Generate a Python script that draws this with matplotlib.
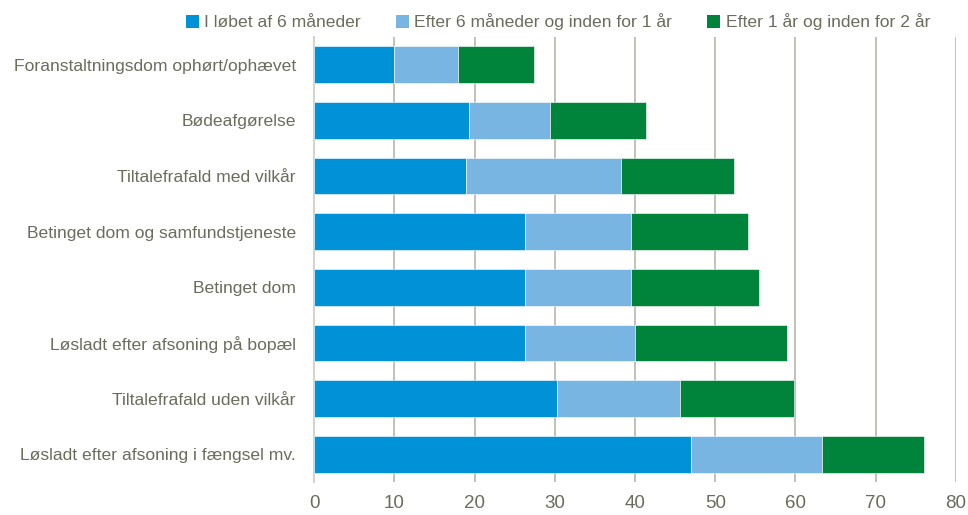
import numpy as np
import matplotlib
matplotlib.use('Agg')
import matplotlib.pyplot as plt
from matplotlib.patches import Patch

plt.rcParams['font.family'] = ['Liberation Sans', 'DejaVu Sans']

# Data (top to bottom)
categories = [
    'Foranstaltningsdom ophørt/ophævet',
    'Bødeafgørelse',
    'Tiltalefrafald med vilkår',
    'Betinget dom og samfundstjeneste',
    'Betinget dom',
    'Løsladt efter afsoning på bopæl',
    'Tiltalefrafald uden vilkår',
    'Løsladt efter afsoning i fængsel mv.',
]
within_6m = [10.0, 19.3, 19.0, 26.3, 26.3, 26.3, 30.3, 47.0]
from_6m_to_1y = [8.0, 10.1, 19.2, 13.2, 13.2, 13.7, 15.3, 16.3]
from_1y_to_2y = [9.4, 12.0, 14.1, 14.6, 15.9, 19.0, 14.2, 12.7]
series_names = ['I løbet af 6 måneder', 'Efter 6 måneder og inden for 1 år',
                'Efter 1 år og inden for 2 år']

colors = ['#0091d6', '#78b5e3', '#00843c']
text_col = '#6b6b5e'
grid_col = '#b8b6aa'
fs = 12.6

fig = plt.figure(figsize=(9.68, 5.15), dpi=100)
ax = fig.add_axes([314 / 968, 1 - 482 / 515, (956 - 314) / 968, 445 / 515])

y = np.arange(len(categories))
left = np.zeros(len(categories))
for vals, col in zip([within_6m, from_6m_to_1y, from_1y_to_2y], colors):
    ax.barh(y, vals, left=left, height=0.66, color=col, zorder=3,
            edgecolor='white', linewidth=0.4)
    left += np.array(vals)

ax.set_xlim(0, 80)
ax.set_ylim(len(categories) - 0.5, -0.5)
ax.set_xticks(range(0, 81, 10))
ax.set_yticks(y)
ax.set_yticklabels(categories)
ax.xaxis.grid(True, color=grid_col, linewidth=1.2, zorder=0)
ax.tick_params(axis='both', length=0, labelsize=13.5, colors=text_col)
ax.tick_params(axis='y', labelsize=fs, pad=13)
ax.tick_params(axis='x', pad=9)
for s in ['top', 'right', 'bottom']:
    ax.spines[s].set_visible(False)
ax.spines['left'].set_color('#d4d3cc')
ax.spines['left'].set_linewidth(1.5)

handles = [Patch(facecolor=c, edgecolor='none') for c in colors]
fig.legend(handles, series_names, loc='center', bbox_to_anchor=(558 / 968, 1 - 22 / 515),
           ncol=3, frameon=False, fontsize=fs, labelcolor=text_col,
           handlelength=0.75, handleheight=0.75, handletextpad=0.3, columnspacing=2.0)

fig.savefig('out.png', dpi=100)
